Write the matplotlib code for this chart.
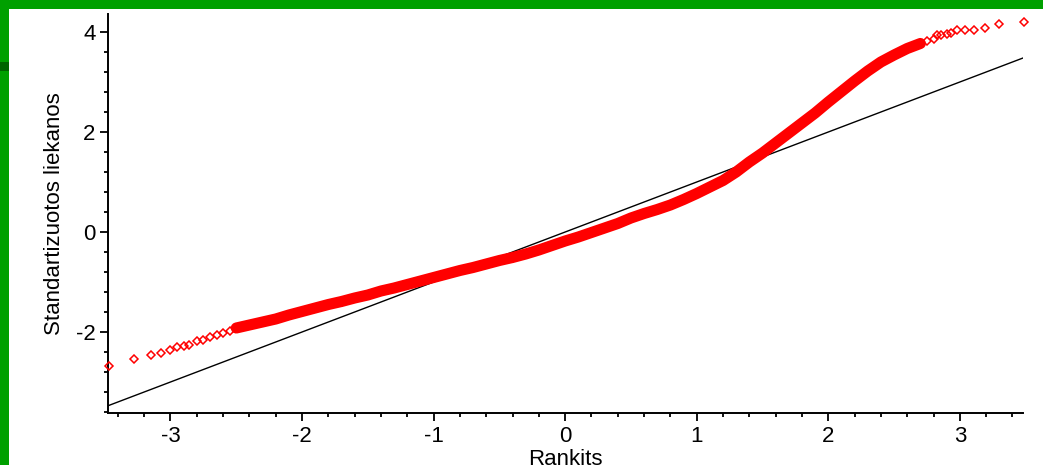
import matplotlib
matplotlib.use('Agg')
import matplotlib.pyplot as plt
from matplotlib.patches import Rectangle
from matplotlib.ticker import MultipleLocator

plt.rcParams['font.family'] = ['Liberation Sans', 'DejaVu Sans']
plt.rcParams['axes.unicode_minus'] = False

# dense middle part of the normal Q-Q plot (rankits vs standardized residuals)
band_x = [-2.5, -2.4, -2.3, -2.2, -2.1, -2.0, -1.9, -1.8, -1.7, -1.6,
          -1.5, -1.4, -1.3, -1.2, -1.1, -1.0, -0.9, -0.8, -0.7, -0.6,
          -0.5, -0.4, -0.3, -0.2, -0.1, 0.0, 0.1, 0.2, 0.3, 0.4,
          0.5, 0.6, 0.7, 0.8, 0.9, 1.0, 1.1, 1.2, 1.3, 1.4,
          1.5, 1.6, 1.7, 1.8, 1.9, 2.0, 2.1, 2.2, 2.3, 2.4,
          2.5, 2.6, 2.7]
band_y = [-1.92, -1.86, -1.80, -1.74, -1.66, -1.59, -1.52, -1.45, -1.39, -1.32,
          -1.26, -1.18, -1.12, -1.05, -0.98, -0.91, -0.84, -0.77, -0.71, -0.64,
          -0.57, -0.51, -0.44, -0.36, -0.27, -0.18, -0.10, -0.01, 0.08, 0.17,
          0.28, 0.37, 0.45, 0.54, 0.65, 0.77, 0.90, 1.03, 1.20, 1.40,
          1.58, 1.78, 1.98, 2.18, 2.38, 2.60, 2.81, 3.02, 3.22, 3.40,
          3.54, 3.67, 3.77]

# sparse tails
left_x = [-3.465, -3.275, -3.15, -3.07, -3.0, -2.95, -2.9, -2.86, -2.8, -2.75, -2.7, -2.65, -2.6, -2.55]
left_y = [-2.67, -2.53, -2.45, -2.41, -2.35, -2.29, -2.28, -2.25, -2.18, -2.15, -2.10, -2.06, -2.01, -1.97]
right_x = [2.75, 2.8, 2.83, 2.86, 2.9, 2.93, 2.98, 3.04, 3.105, 3.19, 3.3, 3.49]
right_y = [3.81, 3.86, 3.93, 3.94, 3.96, 3.98, 4.03, 4.03, 4.04, 4.07, 4.15, 4.19]

# reference line
line_x = [-3.48, 3.48]
line_y = [-3.48, 3.48]

fig = plt.figure(figsize=(10.43, 4.65), dpi=100)
fig.patch.set_facecolor('white')
# green frame (top and left)
fig.patches.append(Rectangle((0, 1 - 9 / 465), 1, 9 / 465, transform=fig.transFigure,
                             facecolor='#00a000', edgecolor='none', zorder=0))
fig.patches.append(Rectangle((0, 0), 9 / 1043, 1, transform=fig.transFigure,
                             facecolor='#00a000', edgecolor='none', zorder=0))
fig.patches.append(Rectangle((0, 1 - 71 / 465), 9 / 1043, 9 / 465, transform=fig.transFigure,
                             facecolor='#006400', edgecolor='none', zorder=1))

ax = fig.add_axes([108 / 1043, 1 - 413 / 465, (1023 - 108) / 1043, (413 - 14) / 465])
ax.set_facecolor('white')

ax.plot(line_x, line_y, color='black', lw=1.0, zorder=2)
ax.plot(band_x, band_y, color='red', lw=8, solid_capstyle='round', zorder=3)
ax.plot(band_x, band_y, linestyle='none', marker='D', ms=4.5, mfc='none', mec='red', mew=1.1, zorder=3)
ax.plot(left_x, left_y, linestyle='none', marker='D', ms=4.5, mfc='none', mec='red', mew=1.1,
        clip_on=False, zorder=3)
ax.plot(right_x, right_y, linestyle='none', marker='D', ms=4.5, mfc='none', mec='red', mew=1.1,
        clip_on=False, zorder=3)

ax.set_xlim(-3.475, 3.48)
ax.set_ylim(-3.62, 4.36)

ax.xaxis.set_major_locator(MultipleLocator(1))
ax.xaxis.set_minor_locator(MultipleLocator(0.2))
ax.yaxis.set_major_locator(MultipleLocator(2))
ax.yaxis.set_minor_locator(MultipleLocator(0.4))

for s in ['top', 'right']:
    ax.spines[s].set_visible(False)
for s in ['left', 'bottom']:
    ax.spines[s].set_linewidth(1.4)

ax.tick_params(which='major', direction='out', length=6, width=1.3, labelsize=16, pad=3)
ax.tick_params(which='minor', direction='out', length=3, width=1.3)

ax.set_xlabel('Rankits', fontsize=16, labelpad=2)
ax.set_ylabel('Standartizuotos liekanos', fontsize=16, labelpad=8)

plt.savefig('out.png', dpi=100, facecolor=fig.get_facecolor())
